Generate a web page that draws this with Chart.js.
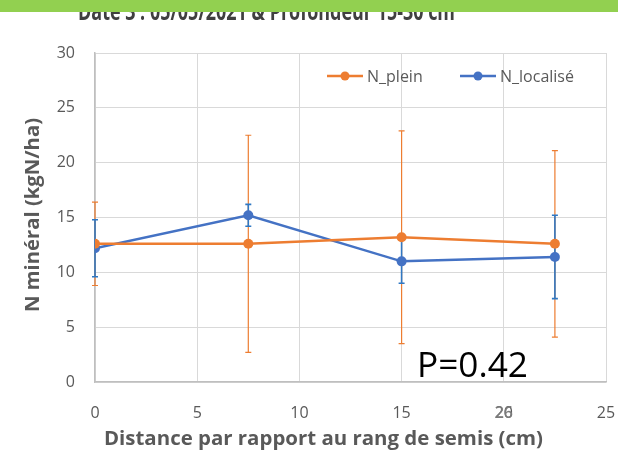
<!DOCTYPE html>
<html>
<head>
<meta charset="utf-8">
<script src="https://cdn.jsdelivr.net/npm/chart.js@4/dist/chart.umd.min.js"></script>
<style>
  html, body { margin: 0; padding: 0; background: #fff; }
  #wrap { width: 618px; height: 455px; position: relative; }
</style>
</head>
<body>
<div id="wrap"><canvas id="chart" width="618" height="455"></canvas></div>
<script>
// values
var distances = [0, 7.5, 15, 22.5];
var pleinValues = [12.6, 12.6, 13.2, 12.6];
var pleinErrors = [3.8, 9.9, 9.7, 8.5];
var localiseValues = [12.2, 15.2, 11.0, 11.4];
var localiseErrors = [2.6, 1.0, 2.0, 3.8];
var xTicks = [0, 5, 10, 15, 20, 25];
var yTicks = [0, 5, 10, 15, 20, 25, 30];

var titleText = 'Date 3 : 05/05/2021 & Profondeur 15-30 cm';
var xTitle = 'Distance par rapport au rang de semis (cm)';
var yTitle = 'N minéral (kgN/ha)';
var pText = 'P=0.42';

var ORANGE = '#ED7D31', BLUE = '#4472C4', BLUE_ERR = '#2F78C4';
var FONT = '"Open Sans", "Liberation Sans", sans-serif';

function toPoints(xs, ys) {
  return xs.map(function (x, i) { return { x: x, y: ys[i] }; });
}

// fit a text to a target width
function fitFont(ctx, text, weight, width, base) {
  ctx.font = weight + ' ' + base + 'px ' + FONT;
  var w = ctx.measureText(text).width;
  return base * width / w;
}

// draw text squeezed horizontally to a given width (Calibri-like look)
function squeezed(ctx, text, font, x, y, width) {
  ctx.font = font;
  var w = ctx.measureText(text).width;
  ctx.save();
  ctx.translate(x, y);
  ctx.scale(width / w, 1);
  ctx.fillText(text, 0, 0);
  ctx.restore();
}

var errorBars = {
  id: 'errorBars',
  beforeDatasetsDraw: function (chart) {
    var ctx = chart.ctx, xs = chart.scales.x, ys = chart.scales.y;
    chart.data.datasets.forEach(function (ds) {
      ctx.save();
      ctx.strokeStyle = ds.errColor;
      ctx.lineWidth = ds.errWidth;
      ds.data.forEach(function (p, i) {
        var px = xs.getPixelForValue(p.x);
        var top = ys.getPixelForValue(p.y + ds.errors[i]);
        var bot = ys.getPixelForValue(p.y - ds.errors[i]);
        ctx.beginPath();
        ctx.moveTo(px, top); ctx.lineTo(px, bot);
        ctx.moveTo(px - 3, top); ctx.lineTo(px + 3, top);
        ctx.moveTo(px - 3, bot); ctx.lineTo(px + 3, bot);
        ctx.stroke();
      });
      ctx.restore();
    });
  }
};

var decorations = {
  id: 'decorations',
  beforeDraw: function (chart) {
    var ctx = chart.ctx;
    ctx.save();
    ctx.fillStyle = '#fff';
    ctx.fillRect(0, 0, chart.width, chart.height);
    ctx.restore();
  },
  afterDraw: function (chart) {
    var ctx = chart.ctx;
    ctx.save();
    // cut-off title under the green band
    ctx.fillStyle = '#404040';
    ctx.textAlign = 'left';
    ctx.textBaseline = 'alphabetic';
    squeezed(ctx, titleText, 'bold 25px ' + FONT, 78, 20, 377);
    ctx.fillStyle = '#92D050';
    ctx.fillRect(0, 0, chart.width, 12);

    // axis titles
    ctx.fillStyle = '#595959';
    ctx.textAlign = 'left';
    ctx.textBaseline = 'middle';
    squeezed(ctx, xTitle, 'bold 19px ' + FONT, 104, 440, 439);

    ctx.save();
    ctx.translate(34, 215);
    ctx.rotate(-Math.PI / 2);
    squeezed(ctx, yTitle, 'bold 19px ' + FONT, -97, 0, 194);
    ctx.restore();

    // overlapped tick label
    ctx.textAlign = 'center';
    ctx.font = '600 16px ' + FONT;
    ctx.fillStyle = '#7a7a7a';
    ctx.fillText('26', chart.scales.x.getPixelForValue(20), 413);

    // legend
    var items = [
      { label: 'N_plein', color: ORANGE, x: 327 },
      { label: 'N_localisé', color: BLUE, x: 460 }
    ];
    ctx.font = '16px ' + FONT;
    ctx.textAlign = 'left';
    items.forEach(function (it) {
      ctx.strokeStyle = it.color;
      ctx.lineWidth = 2.5;
      ctx.beginPath();
      ctx.moveTo(it.x, 76); ctx.lineTo(it.x + 36, 76);
      ctx.stroke();
      ctx.fillStyle = it.color;
      ctx.beginPath();
      ctx.arc(it.x + 18, 76, 4.5, 0, Math.PI * 2);
      ctx.fill();
      ctx.fillStyle = '#595959';
      ctx.fillText(it.label, it.x + 40, 77);
    });

    // p value
    var ps = fitFont(ctx, pText, 'normal', 111, 33);
    ctx.font = ps + 'px ' + FONT;
    ctx.fillStyle = '#000';
    ctx.textBaseline = 'alphabetic';
    ctx.fillText(pText, 417, 377);
    ctx.restore();
  }
};

var tickFont = { family: FONT, size: 16 };

new Chart(document.getElementById('chart').getContext('2d'), {
  type: 'line',
  data: {
    datasets: [{
      label: 'N_plein',
      data: toPoints(distances, pleinValues),
      errors: pleinErrors,
      errColor: ORANGE,
      errWidth: 1.2,
      borderColor: ORANGE,
      backgroundColor: ORANGE,
      borderWidth: 2.5,
      pointRadius: 5,
      pointBorderWidth: 0,
      tension: 0
    }, {
      label: 'N_localisé',
      data: toPoints(distances, localiseValues),
      errors: localiseErrors,
      errColor: BLUE_ERR,
      errWidth: 1.6,
      borderColor: BLUE,
      backgroundColor: BLUE,
      borderWidth: 2.5,
      pointRadius: 5,
      pointBorderWidth: 0,
      tension: 0
    }]
  },
  options: {
    responsive: false,
    animation: false,
    layout: { padding: { top: 53, right: 12, left: 0, bottom: 0 } },
    plugins: {
      legend: { display: false },
      title: { display: false },
      tooltip: { enabled: false }
    },
    scales: {
      x: {
        type: 'linear',
        min: 0, max: 25,
        afterFit: function (s) { s.height = 73; s.paddingLeft = 0; s.paddingRight = 0; },
        afterBuildTicks: function (s) { s.ticks = xTicks.map(function (v) { return { value: v }; }); },
        grid: { color: '#D9D9D9', drawTicks: false },
        border: { color: '#BFBFBF', width: 1.5 },
        ticks: { font: tickFont, color: '#595959', padding: 22, maxRotation: 0 }
      },
      y: {
        min: 0, max: 30,
        afterFit: function (s) { s.width = 95; s.paddingTop = 0; s.paddingBottom = 0; },
        afterBuildTicks: function (s) { s.ticks = yTicks.map(function (v) { return { value: v }; }); },
        grid: { color: '#D9D9D9', drawTicks: false },
        border: { color: '#BFBFBF', width: 1.5 },
        ticks: { font: tickFont, color: '#595959', padding: 20 }
      }
    }
  },
  plugins: [errorBars, decorations]
});
</script>
</body>
</html>
